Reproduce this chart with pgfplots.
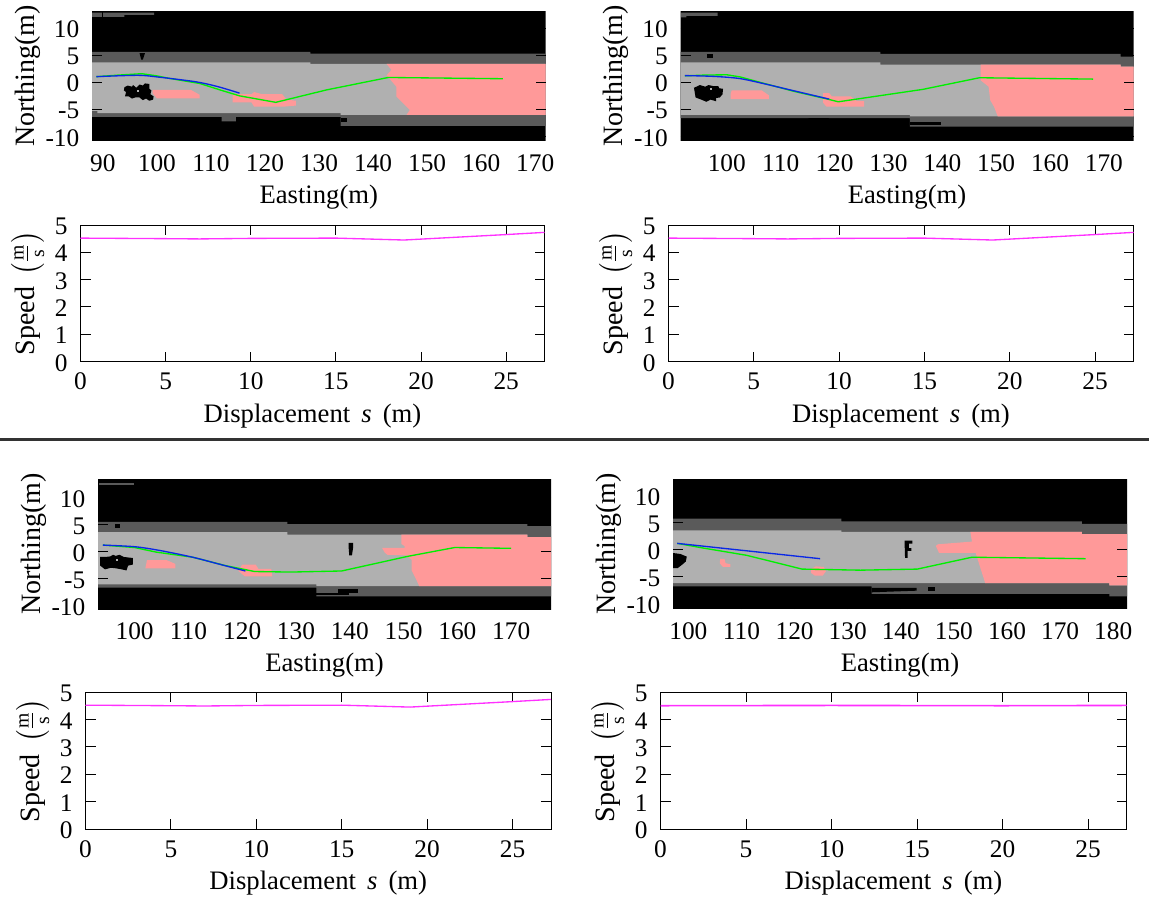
\documentclass[border=0pt]{standalone}
\usepackage{amsmath}
\usepackage{fontspec}
\setmainfont{Liberation Serif}
\usepackage{pgfplots}
\pgfplotsset{compat=1.18}
\newcommand\PX[1]{#1*0.75pt}
\definecolor{dk}{HTML}{5A5A5A}
\definecolor{lt}{HTML}{B0B0B0}
\definecolor{pk}{HTML}{FF9999}
\definecolor{gr}{HTML}{00F000}
\definecolor{bl}{HTML}{0A28E6}
\definecolor{mg}{HTML}{FF30FF}
\pgfplotsset{
  every axis/.append style={
    scale only axis, anchor=north west,
    tick align=inside, major tick length=7.5pt,
    tick style={black,line width=0.7pt},
    every tick label/.append style={font=\fontsize{19}{21}\selectfont},
    /pgf/number format/assume math mode=true,
    scaled ticks=false,
    yticklabel style={xshift=-6pt,yshift=-1pt},
  },
  fillp/.style={draw=none,fill=#1,forget plot,mark=none},
  map/.style={
    axis on top, axis line style={draw=none},
    ymin=-10.8, ymax=13.2,
    ytick={-10,-5,0,5,10}, yticklabels={-10,-5,0,5,10},
    xtick distance=10,
    xticklabel style={yshift=-7pt},
    xlabel={Easting(m)}, ylabel={Northing(m)},
    xlabel style={yshift=-3pt,font=\fontsize{20}{22}\selectfont},
    ylabel style={yshift=-3pt,font=\fontsize{21}{23}\selectfont},
  },
  spd/.style={
    line width=0.7pt, ymin=0, ymax=5, ytick={0,1,2,3,4,5},
    xmin=0, xmax=27.25, xtick={0,5,10,15,20,25},
    xticklabel style={yshift=-5pt},
    xlabel={Displacement \,\textit{s} \,(m)},
    ylabel={Speed \,$\left(\frac{\text{m}}{\text{s}}\right)$},
    xlabel style={yshift=-3pt,font=\fontsize{20}{22}\selectfont},
    ylabel style={yshift=1pt,font=\fontsize{21}{23}\selectfont},
  },
  grn/.style={gr,line width=1pt,mark=none,forget plot},
  blu/.style={bl,line width=1pt,mark=none,forget plot,smooth,tension=0.5},
  mag/.style={mg,line width=1pt,mark=none,forget plot},
}
\newcommand\SPEED{\addplot[mag] coordinates {(0,4.52)(5,4.5)(7,4.49)(10,4.51)(15,4.52)(19,4.45)(25,4.65)(27.25,4.73)};}
\begin{document}
\begin{tikzpicture}
\path[use as bounding box] (0,0) rectangle (\PX{1149},\PX{-897});
\draw[line width=2.2pt,color=black!80] (0,\PX{-439.5}) -- (\PX{1149},\PX{-439.5});

% ---------- Panel A map
\begin{axis}[map,at={(\PX{92},\PX{-11})},width=\PX{453.5},height=\PX{129.7},xmin=88,xmax=171.9]
\addplot[fillp=black] coordinates {(88,-10.8)(172,-10.8)(172,13.2)(88,13.2)};
\addplot[fillp=dk] coordinates {(88,12.9)(99.5,12.9)(99.5,12.5)(94,12.5)(94,12.1)(88,12.1)};
\addplot[fillp=dk] coordinates {(88,5.65)(128.4,5.65)(128.4,5.3)(172,5.3)(172,-8.04)(134,-8.04)(134,-6.4)(114.6,-6.4)(114.6,-7.2)(112,-7.2)(112,-6.4)(88,-6.4)};
\addplot[fillp=lt] coordinates {(88,3.7)(128.4,3.7)(128.4,3.4)(172,3.4)(172,-6)(134,-6)(134,-5.7)(89,-5.7)(89,-5.3)(88,-5.3)};
\addplot[fillp=pk] coordinates {(142.5,3.4)(143.4,2.3)(142.5,1.3)(144.3,-0.8)(144.3,-2.6)(146.8,-5.1)(146.2,-6)(172,-6)(172,3.4)};
\addplot[fillp=pk] coordinates {(99.2,-1.4)(106.3,-1.4)(107.9,-2.3)(107.9,-2.95)(100,-2.95)(99.2,-2)};
\addplot[fillp=pk] coordinates {(114,-2.2)(117.5,-2.2)(118,-1.8)(119.5,-2.2)(123.2,-2.2)(124,-3.2)(125.7,-3.4)(125.7,-4.3)(123.5,-4.5)(118,-4.5)(117.5,-3.7)(114,-3.7)};
\addplot[fillp=black] coordinates {(94,-0.9)(94.6,-0.6)(95.4,-0.8)(95.6,-0.5)(96.2,-1)(96.8,-0.4)(97.4,-0.6)(97.8,-0.2)(98.6,-0.3)(98.6,-1.2)(99,-1.5)(98.8,-2.2)(99.4,-2.6)(99.3,-3.2)(98.6,-3.4)(98,-3)(97.4,-3.3)(96.8,-2.8)(96,-2.8)(95.4,-3)(94.8,-2.6)(94.1,-2.6)(94.3,-1.8)(93.9,-1.5)};
\addplot[fillp=lt] coordinates {(96.3,-1.4)(96.7,-1.4)(96.7,-1.8)(96.3,-1.8)};
\addplot[fillp=black] coordinates {(96.8,5.4)(97.8,5.4)(97.4,4.2)(97.1,4.2)};
\addplot[fillp=black] coordinates {(134,-6.6)(135.2,-6.6)(135.2,-7.4)(134,-7.4)};
\addplot[grn] coordinates {(88.8,1.05)(93,1.35)(97.2,1.6)(100,1.2)(102.5,0.7)(107.9,-0.2)(112,-1.5)(115.3,-2.5)(122,-3.7)(131.4,-1.4)(142.8,0.9)(164,0.67)};
\addplot[blu] coordinates {(88.8,1.05)(96.5,1.3)(100.5,0.95)(107.2,0.1)(111.3,-0.8)(115.3,-2)};
\end{axis}

% ---------- Panel B map
\begin{axis}[map,at={(\PX{680.5},\PX{-11})},width=\PX{453},height=\PX{129.7},xmin=91.4,xmax=175.5]
\addplot[fillp=black] coordinates {(91,-10.8)(176,-10.8)(176,13.2)(91,13.2)};
\addplot[fillp=dk] coordinates {(91.5,12.9)(98.3,12.9)(98.3,12.3)(92.5,12.3)(92.5,12)(91.5,12)};
\addplot[fillp=dk] coordinates {(91,5.65)(128.5,5.65)(128.5,5.25)(173.1,5.25)(173.1,4.75)(176,4.75)(176,-8.2)(134,-8.2)(134,-6.6)(91,-6.6)};
\addplot[fillp=lt] coordinates {(91,3.7)(128.5,3.7)(128.5,3.3)(173.1,3.3)(173.1,2.9)(176,2.9)(176,-6.3)(134,-6.3)(134,-6)(91,-6)};
\addplot[fillp=pk] coordinates {(147.1,3.3)(147.1,0.4)(148.6,-0.8)(148.9,-3.3)(149.6,-4.5)(150.3,-6.3)(176,-6.3)(176,2.9)(173.1,2.9)(173.1,3.3)};
\addplot[fillp=pk] coordinates {(100.9,-1.5)(106.5,-1.5)(107.8,-2.4)(107.8,-3.1)(100.7,-3.1)(100.7,-2.2)};
\addplot[fillp=pk] coordinates {(117.9,-2)(119,-2)(119.5,-2.6)(123,-2.6)(124,-3.4)(125.5,-3.5)(125.5,-4.5)(118.5,-4.5)(117.9,-3.8)};
\addplot[fillp=black] coordinates {(93.9,-1)(94.6,-0.7)(95,-0.5)(96,-0.8)(96.6,-0.5)(97.5,-0.7)(98.4,-0.7)(98.6,-1.1)(99.3,-1.2)(99.2,-2.2)(98.7,-2.8)(98,-2.9)(98,-3.5)(97,-3.2)(96.2,-3.6)(95.5,-3.3)(95,-3.1)(94.2,-2.8)};
\addplot[fillp=lt] coordinates {(96.9,-1.1)(97.3,-1.1)(97.3,-1.5)(96.9,-1.5)};
\addplot[fillp=black] coordinates {(96.4,5.3)(97.4,5.3)(97.4,4.5)(96.4,4.5)};
\addplot[fillp=black] coordinates {(134,-7.3)(139.8,-7.3)(139.8,-7.9)(134,-7.9)};
\addplot[fillp=black] coordinates {(115,-6.6)(119,-6.6)(118.5,-7.1)(116,-7.1)};
\addplot[grn] coordinates {(92.2,1.2)(96,1.35)(100,1.4)(102.5,1)(105.8,0.1)(112.6,-1.7)(118.7,-3.1)(120.7,-3.6)(136.4,-1.3)(146.9,0.85)(168,0.6)};
\addplot[blu] coordinates {(92.2,1.25)(97.6,1.1)(102.4,0.7)(107.1,-0.3)(112.6,-1.6)(119,-3.1)};
\end{axis}

% ---------- Panel C map
\begin{axis}[map,at={(\PX{98},\PX{-479})},width=\PX{453},height=\PX{130},xmin=93.2,xmax=177.4,ymin=-10.65,ymax=13.45]
\addplot[fillp=black] coordinates {(93,-10.8)(178,-10.8)(178,13.5)(93,13.5)};
\addplot[fillp=dk] coordinates {(93.4,12.8)(100,12.8)(100,12.3)(93.4,12.3)};
\addplot[fillp=dk] coordinates {(93,5.5)(128.4,5.5)(128.4,5.1)(173,5.1)(173,4.7)(178,4.7)(178,-8.3)(133.8,-8.3)(133.8,-6.7)(93,-6.7)};
\addplot[fillp=lt] coordinates {(93,3.6)(128.4,3.6)(128.4,3.15)(173,3.15)(173,2.7)(178,2.7)(178,-6.4)(133.8,-6.4)(133.8,-6.1)(93,-6.1)};
\addplot[fillp=pk] coordinates {(149.6,3.15)(149.6,1.4)(150.2,1)(150.2,0.7)(146,0.7)(146.5,-0.2)(147,-0.6)(150.5,-0.7)(151.5,-1.5)(151.5,-3.5)(152.5,-5.5)(152.9,-6.4)(178,-6.4)(178,2.7)(173,2.7)(173,3.15)};
\addplot[fillp=pk] coordinates {(102.3,-1.6)(106,-1.6)(107.6,-2.3)(107.6,-3.1)(102,-3.1)};
\addplot[fillp=pk] coordinates {(119.3,-3.6)(120,-2.4)(122.5,-2.4)(123,-3.2)(125.4,-3.2)(125.6,-4.6)(120.5,-4.6)};
\addplot[fillp=black] coordinates {(93.6,-1)(94.6,-1)(95.5,-0.9)(96,-0.6)(96.5,-0.8)(97.2,-0.6)(98,-1)(99.7,-1.2)(99.7,-2.4)(98.8,-2.6)(98.5,-3.5)(97.6,-3.3)(96.5,-3.1)(95.6,-3)(94.5,-3.3)(93.6,-2.6)};
\addplot[fillp=lt] coordinates {(96.5,-1.3)(96.9,-1.3)(96.9,-1.7)(96.5,-1.7)};
\addplot[fillp=black] coordinates {(96.4,5.2)(97.2,5.2)(97.2,4.4)(96.4,4.4)};
\addplot[fillp=black] coordinates {(139.8,1.6)(140.6,1.6)(140.6,0.6)(140.4,-0.7)(139.9,-0.7)(139.8,0.6)};
\addplot[fillp=black] coordinates {(133.8,-7.6)(139.9,-7.6)(139.9,-8)(133.8,-8)};
\addplot[fillp=black] coordinates {(137.9,-7)(141.6,-7)(141.6,-7.6)(137.9,-7.6)};
\addplot[grn] coordinates {(94.1,1.2)(100,0.75)(104,-0.1)(110.8,-1.05)(116.9,-2.6)(122.3,-3.7)(129,-3.8)(138.5,-3.6)(150.7,-0.9)(159.5,0.75)(170,0.6)};
\addplot[blu] coordinates {(94.1,1.2)(100,0.9)(104.7,0.2)(110.8,-1.05)(115.6,-2.3)(120.6,-3.6)};
\end{axis}

% ---------- Panel D map
\begin{axis}[map,at={(\PX{673},\PX{-479})},width=\PX{454},height=\PX{130},xmin=97.1,xmax=182.6,ymin=-11,ymax=13.1]
\addplot[fillp=black] coordinates {(97,-11)(183,-11)(183,13.5)(97,13.5)};
\addplot[fillp=dk] coordinates {(97,5.75)(128.8,5.75)(128.8,5.25)(174.1,5.25)(174.1,4.8)(183,4.8)(183,-8.65)(179.3,-8.65)(179.3,-8.2)(134.5,-8.2)(134.5,-6.8)(97,-6.8)};
\addplot[fillp=lt] coordinates {(97,3.6)(128.8,3.6)(128.8,3.3)(174.1,3.3)(174.1,2.9)(183,2.9)(183,-6.6)(179.3,-6.6)(179.3,-6.2)(97,-6.2)};
\addplot[fillp=pk] coordinates {(153.1,3.3)(153.4,1.5)(147,1)(146.6,0.7)(147.2,-0.6)(154.1,-0.6)(154.8,-2.8)(155.9,-6.2)(179.3,-6.2)(179.3,-6.6)(183,-6.6)(183,2.9)(174.1,2.9)(174.1,3.3)};
\addplot[fillp=pk] coordinates {(106,-1.7)(106.8,-1.7)(107,-2.5)(107.9,-2.7)(107.9,-3.2)(106.5,-3.2)(105.9,-2.5)};
\addplot[fillp=pk] coordinates {(123.1,-3.6)(124,-3.1)(125.5,-3.2)(125.9,-4)(125.3,-4.8)(123.8,-4.8)(123.1,-4.3)};
\addplot[fillp=black] coordinates {(97,-0.6)(98.5,-0.8)(99.7,-1.3)(99.5,-2.2)(98.8,-2.8)(98,-3.4)(97,-3.4)};
\addplot[fillp=black] coordinates {(140.7,1.7)(142.2,1.7)(142.2,1.1)(141.5,1.1)(141.5,0.3)(142,0.3)(142,-0.2)(141.3,-0.2)(141.3,-1.5)(140.8,-1.5)};
\addplot[fillp=black] coordinates {(134.5,-7.1)(143,-7.1)(143,-7.6)(134.5,-7.9)};
\addplot[fillp=black] coordinates {(145.2,-7)(146.5,-7)(146.5,-7.7)(145.2,-7.7)};
\addplot[grn] coordinates {(97.9,1.17)(102.8,0.3)(111,-1.05)(121.4,-3.6)(132.4,-3.8)(143.1,-3.6)(153.4,-1.4)(174.8,-1.67)};
\addplot[blu] coordinates {(97.9,1.17)(124.8,-1.67)};
\end{axis}

% ---------- Speed panels
\begin{axis}[spd,at={(\PX{80.5},\PX{-225})},width=\PX{464},height=\PX{136.5}]
\SPEED
\end{axis}
\begin{axis}[spd,at={(\PX{668.5},\PX{-225})},width=\PX{465},height=\PX{136.5}]
\SPEED
\end{axis}
\begin{axis}[spd,at={(\PX{85.5},\PX{-692})},width=\PX{465.5},height=\PX{137}]
\SPEED
\end{axis}
\begin{axis}[spd,at={(\PX{660.5},\PX{-692})},width=\PX{466},height=\PX{137}]
\addplot[mg,line width=1.2pt,mark=none,forget plot] coordinates {(0,4.5)(10,4.51)(20,4.5)(27.25,4.51)};
\end{axis}
\end{tikzpicture}
\end{document}
